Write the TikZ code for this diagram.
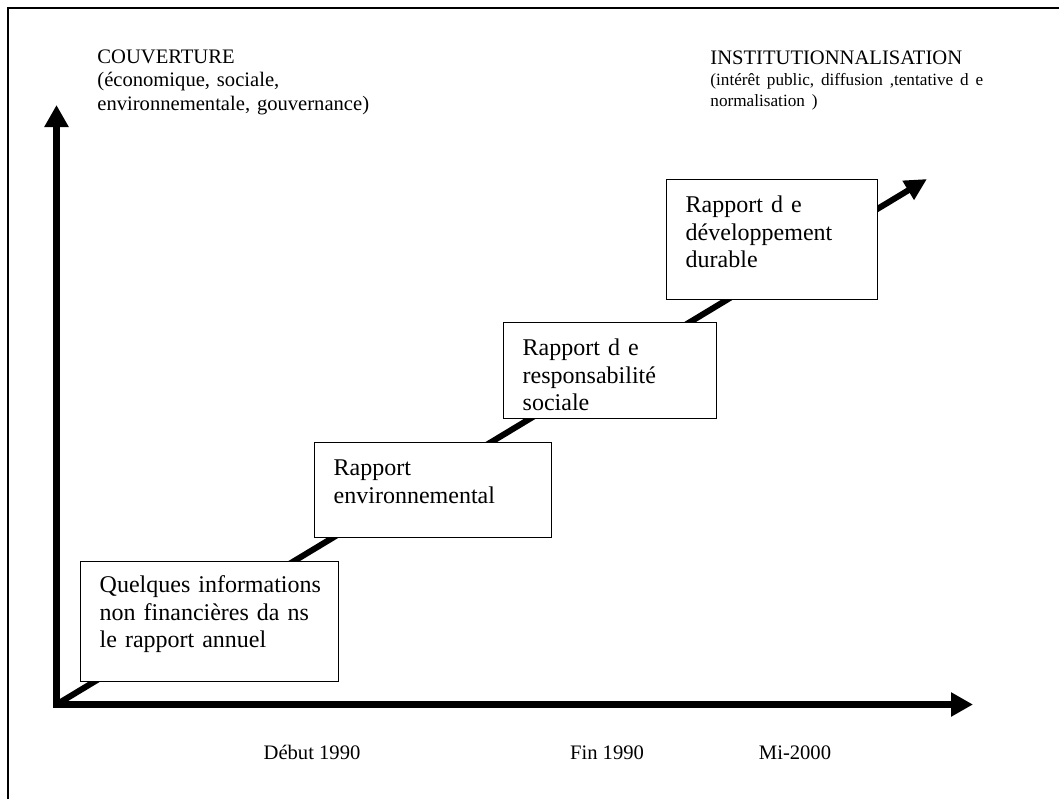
\documentclass[tikz,border=0pt]{standalone}
\usepackage{fontspec}
\setmainfont{Liberation Serif}
\usetikzlibrary{arrows.meta}

\begin{document}
\begin{tikzpicture}[
        x=0.5pt, y=-0.5pt,
        axis/.style={line width=3.8pt, line cap=rect, -{Triangle[length=11pt, width=11.5pt]}},
        trend/.style={line width=3pt, -{Triangle[length=11pt, width=10.5pt]}},
        stage/.style={draw, fill=white, line width=0.7pt, anchor=north west, align=left,
            inner xsep=9.5pt, inner ysep=0pt, text height=16.5pt,
            font=\fontsize{12}{13.8}\selectfont},
        heading/.style={anchor=base west, inner sep=0pt, align=left, text width=150pt,
            font=\fontsize{10.3}{11.75}\selectfont},
        period/.style={anchor=base, inner sep=0pt, font=\fontsize{10.3}{12}\selectfont}
    ]
    \useasboundingbox (0,0) rectangle (1059,799);
    \draw[line width=0.8pt] (8,799) -- (8,8) -- (1059,8);

    % axes
    \coordinate (o) at (56.5,704.5);
    \coordinate (ytip) at (56.5,105);
    \coordinate (xtip) at (973,704.5);
    \coordinate (tip) at (927,179);
    \draw[axis] (o) -- (ytip);
    \draw[axis] (o) -- (xtip);

    % trend line, hidden behind the boxes
    \draw[trend] (o) -- (tip);

    \node[stage, text width=110pt, text height=15.5pt, text depth=44.5pt] (infos) at (80,561)
        {\mbox{Quelques informations}\\non financières da ns\\le rapport annuel};
    \node[stage, text width=99.5pt, text depth=31pt] (envir) at (314,442)
        {Rapport\\environnemental};
    \node[stage, text width=87.5pt, text depth=31.5pt] (social) at (503,322)
        {Rapport d e\\responsabilité\\sociale};
    \node[stage, text width=86.5pt, text depth=43.5pt] (durable) at (666,179)
        {Rapport d e\\développement\\durable};

    \node[heading] (couverture) at (97,63)
        {COUVERTURE\\(économique, sociale,\\environnementale, gouvernance)};
    \node[heading, text width=170pt, font=\fontsize{10.3}{11}\selectfont] (institution) at (710,64)
        {INSTITUTIONNALISATION\\{\fontsize{8.6}{10.5}\selectfont (intérêt public, diffusion ,tentative d e\\[-0.5pt]normalisation )}};

    \node[period] (debut) at (312,759) {Début 1990};
    \node[period] (fin) at (607,759) {Fin 1990};
    \node[period] (mi) at (795,759) {Mi-2000};
\end{tikzpicture}
\end{document}
